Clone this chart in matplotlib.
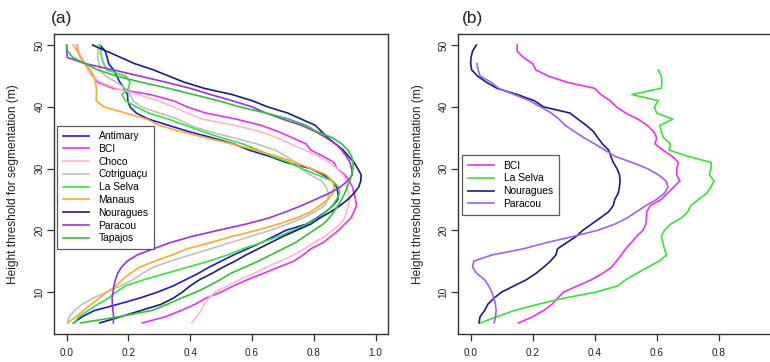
import matplotlib
matplotlib.use("Agg")
import matplotlib.pyplot as plt

plt.rcParams['font.family'] = ['Liberation Sans', 'DejaVu Sans']

# ---------------- data: panel (a) ----------------
heights_a = list(range(50, 4, -1))  # 50 .. 5

antimary = [.108, .125, .131, .136, .152, .162, .172, .186, .197, .198,
            .205, .225, .265, .33, .395, .47, .54, .59, .655, .71,
            .79, .83, .86, .874, .878, .878, .862, .838, .81, .776,
            .71, .67, .63, .585, .54, .50, .46, .425, .385, .345,
            .295, .235, .165, .09, .05, .022]
bci_a = [.034, .038, .045, .06, .075, .085, .10, .15, .27, .345,
         .39, .45, .55, .63, .685, .73, .775, .79, .83, .865,
         .875, .90, .915, .925, .93, .935, .938, .93, .92, .90,
         .88, .855, .83, .79, .765, .735, .685, .635, .585, .54,
         .50, .45, .415, .37, .32, .245]
choco = [.036, .04, .048, .058, .068, .08, .11, .16, .23, .295,
         .345, .39, .44, .545, .625, .68, .725, .77, .815, .85,
         .875, .895, .905, .907, .912, .915, .912, .906, .90, .885,
         .86, .835, .80, .77, .735, .69, .645, .605, .56, .52,
         .48, .46, .445, .435, .42, .405]
cotriguacu = [.10, .102, .10, .105, .108, .125, .16, .19, .205, .215,
              .24, .30, .36, .40, .46, .54, .615, .675, .71, .74,
              .76, .787, .825, .84, .847, .845, .835, .805, .765, .715,
              .66, .595, .53, .465, .40, .335, .28, .245, .215, .175,
              .13, .085, .05, .025, .008, .003]
laselva_a = [.108, .11, .113, .12, .129, .19, .205, .20, .179, .19,
             .225, .265, .33, .385, .44, .50, .57, .62, .665, .72,
             .76, .81, .86, .88, .884, .873, .86, .84, .815, .78,
             .735, .685, .63, .57, .52, .46, .39, .32, .25, .19,
             .16, .135, .10, .07, .04, .024]
manaus = [.021, .035, .045, .06, .075, .088, .093, .096, .097, .095,
          .12, .19, .26, .30, .37, .45, .535, .61, .68, .74,
          .79, .84, .86, .866, .862, .845, .82, .79, .745, .685,
          .615, .535, .465, .39, .34, .285, .235, .205, .18, .16,
          .13, .105, .08, .055, .03, .003]
nouragues_a = [.084, .13, .175, .22, .28, .33, .38, .445, .535, .60,
               .65, .715, .76, .805, .825, .845, .87, .895, .912, .93,
               .942, .953, .952, .945, .93, .91, .885, .855, .82, .79,
               .745, .70, .66, .62, .58, .545, .505, .47, .43, .40,
               .375, .345, .305, .24, .175, .108]
paracou_a = [.0, .0, .002, .06, .15, .235, .32, .40, .465, .535,
             .60, .645, .70, .76, .805, .84, .87, .89, .905, .917,
             .922, .925, .91, .885, .85, .805, .76, .71, .655, .58,
             .49, .405, .335, .28, .228, .196, .177, .165, .158, .153,
             .15, .147, .148, .15, .152, .151]
tapajos = [.0, .003, .02, .06, .10, .16, .24, .33, .41, .49,
           .56, .645, .72, .775, .81, .86, .89, .91, .922, .927,
           .927, .922, .916, .908, .90, .89, .878, .865, .85, .83,
           .80, .77, .74, .70, .66, .62, .575, .53, .497, .46,
           .42, .37, .325, .275, .17, .045]

series_a = ["Antimary", "BCI", "Choco", "Cotriguaçu", "La Selva",
            "Manaus", "Nouragues", "Paracou", "Tapajos"]
values_a = [antimary, bci_a, choco, cotriguacu, laselva_a,
            manaus, nouragues_a, paracou_a, tapajos]
colors_a = ["#1a1ae0", "#f030f0", "#ffb8c8", "#c0c0c0", "#33e833",
            "#ffaa22", "#1c1c80", "#9a30ee", "#2ec42e"]

# ---------------- data: panel (b) ----------------
heights_bci_b = list(range(50, 4, -1))
bci_b = [.15, .15, .17, .20, .21, .25, .31, .40, .42, .45,
         .47, .50, .54, .57, .59, .60, .595, .62, .65, .67,
         .665, .665, .675, .655, .635, .615, .58, .568, .567, .565,
         .556, .535, .518, .50, .486, .47, .454, .425, .39, .345,
         .30, .28, .262, .235, .20, .154]
heights_ls_b = list(range(46, 4, -1))
laselva_b = [.605, .615, .617, .615, .52, .605, .593, .60, .652, .61,
             .615, .622, .645, .64, .70, .776, .775, .770, .785, .775,
             .762, .735, .71, .70, .68, .645, .625, .615, .62, .625,
             .632, .608, .57, .535, .50, .475, .405, .30, .215, .14,
             .085, .031]
heights_no_b = list(range(50, 4, -1))
nouragues_b = [.018, .006, .001, .0, .003, .022, .05, .085, .15, .205,
               .235, .32, .346, .373, .396, .41, .425, .445, .452, .46,
               .472, .48, .482, .48, .476, .465, .46, .445, .418, .39,
               .362, .34, .31, .28, .275, .257, .235, .21, .18, .14,
               .10, .075, .055, .045, .03, .027]
heights_pa_b = list(range(47, 4, -1))
paracou_b = [.02, .024, .03, .065, .09, .14, .19, .225, .26, .285,
             .305, .335, .365, .40, .433, .465, .52, .57, .605, .63,
             .637, .625, .60, .565, .535, .505, .465, .41, .33, .245,
             .17, .068, .01, .006, .02, .045, .058, .068, .075, .08,
             .082, .08, .076]

series_b = ["BCI", "La Selva", "Nouragues", "Paracou"]
heights_b = [heights_bci_b, heights_ls_b, heights_no_b, heights_pa_b]
values_b = [bci_b, laselva_b, nouragues_b, paracou_b]
colors_b = ["#f030f0", "#33e833", "#1c1c80", "#a060f0"]

xticks_a = [0.0, 0.2, 0.4, 0.6, 0.8, 1.0]
xticks_b = [0.0, 0.2, 0.4, 0.6, 0.8]   # 1.0 lies beyond the cropped edge
yticks = [10, 20, 30, 40, 50]
ylabel = "Height threshold for segmentation (m)"

# ---------------- figure ----------------
W, H = 770, 362
fig = plt.figure(figsize=(W / 100, H / 100), dpi=100)


def px_axes(x0, x1, ytop, ybot):
    return fig.add_axes([x0 / W, (H - ybot) / H, (x1 - x0) / W, (ybot - ytop) / H])


axA = px_axes(54.3, 388, 34, 334)
axB = px_axes(458.3, 793, 34, 334)


def style(ax, xticks):
    ax.set_xlim(-0.04, 1.04)
    ax.set_ylim(3.2, 51.8)
    ax.set_xticks(xticks)
    ax.set_xticklabels([f"{t:.1f}" for t in xticks])
    ax.set_yticks(yticks)
    ax.set_yticklabels([str(t) for t in yticks], rotation=90, va='center')
    ax.tick_params(axis='both', direction='out', length=5, width=0.9,
                   colors='#333333', labelsize=7.2, labelcolor='#222222')
    ax.tick_params(axis='x', pad=5)
    ax.tick_params(axis='y', pad=2)
    for s in ax.spines.values():
        s.set_linewidth(1.0)
        s.set_color('#333333')


for name, vals, c in zip(series_a, values_a, colors_a):
    axA.plot(vals, heights_a, color=c, lw=1.2, label=name)
style(axA, xticks_a)
legA = axA.legend(loc='upper left', bbox_to_anchor=(0.008, 0.695), fontsize=7.4,
                  frameon=True, fancybox=False, edgecolor='#333333',
                  handlelength=2.6, handletextpad=0.9, labelspacing=0.27,
                  borderpad=0.55, borderaxespad=0)
legA.get_frame().set_linewidth(0.9)

for name, hh, vals, c in zip(series_b, heights_b, values_b, colors_b):
    axB.plot(vals, hh, color=c, lw=1.2, label=name)
style(axB, xticks_b)
legB = axB.legend(loc='upper left', bbox_to_anchor=(0.011, 0.597), fontsize=7.4,
                  frameon=True, fancybox=False, edgecolor='#333333',
                  handlelength=2.6, handletextpad=0.9, labelspacing=0.27,
                  borderpad=0.55, borderaxespad=0)
legB.get_frame().set_linewidth(0.9)

fig.text(13 / W, 1 - 184 / H, ylabel, rotation=90, ha='center', va='center',
         fontsize=8.6, color='#222222')
fig.text(418 / W, 1 - 184 / H, ylabel, rotation=90, ha='center', va='center',
         fontsize=8.6, color='#222222')
fig.text(51 / W, 1 - 18 / H, "(a)", ha='left', va='center', fontsize=12.5, color='#222222')
fig.text(462 / W, 1 - 18 / H, "(b)", ha='left', va='center', fontsize=12.5, color='#222222')

fig.savefig("out.png", dpi=100, facecolor='white')
